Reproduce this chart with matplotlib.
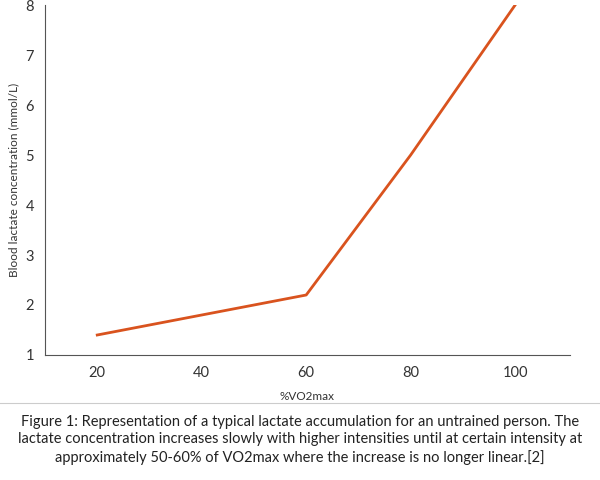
import matplotlib
matplotlib.use("Agg")
from matplotlib import pyplot as plt

vo2 = [20, 60, 80, 100]
lactate = [1.4, 2.2, 5.0, 8.0]
xticks = [20, 40, 60, 80, 100]
yticks = [1, 2, 3, 4, 5, 6, 7, 8]
caption = ("Figure 1: Representation of a typical lactate accumulation for an untrained person. The\n"
           "lactate concentration increases slowly with higher intensities until at certain intensity at\n"
           "approximately 50-60% of VO2max where the increase is no longer linear.[2]")

plt.rcParams["font.family"] = "Lato"
fig = plt.figure(figsize=(6, 4.8), dpi=100)
ax = fig.add_axes([45 / 600, 1 - 355 / 480, 525 / 600, 350 / 480])
ax.plot(vo2, lactate, color="#d9531e", linewidth=2)
ax.set_xlim(10, 110.5)
ax.set_ylim(1, 8)
ax.set_xticks(xticks)
ax.set_yticks(yticks)
ax.tick_params(labelsize=10.5, colors="#333333", length=0, pad=8)
ax.spines["top"].set_visible(False)
ax.spines["right"].set_visible(False)
for s in ("left", "bottom"):
    ax.spines[s].set_color("#555555")
ax.set_xlabel("%VO2max", fontsize=8.5, color="#333333", labelpad=8)
ax.set_ylabel("Blood lactate concentration (mmol/L)", fontsize=8.5, color="#333333")

fig.add_artist(plt.Line2D([0, 1], [1 - 403 / 480] * 2, color="#cccccc", linewidth=0.8))
fig.text(0.5, 1 - 440 / 480, caption, ha="center", va="center", fontsize=10.5,
         color="#222222", linespacing=1.3)
fig.savefig("out.png", dpi=100)
